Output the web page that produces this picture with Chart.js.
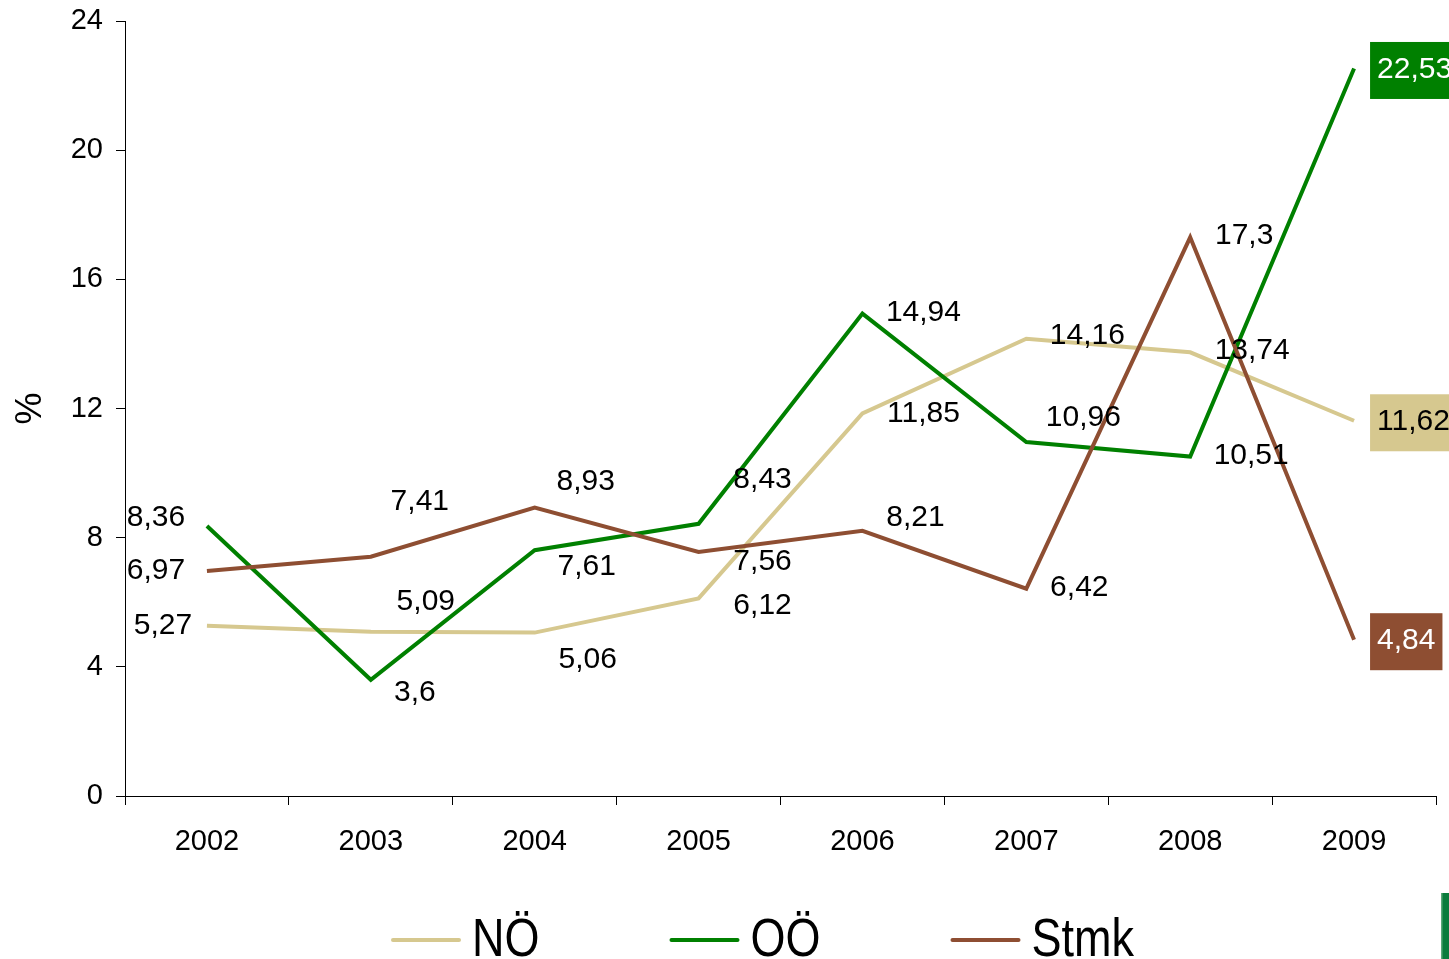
<!DOCTYPE html>
<html><head><meta charset="utf-8">
<script src="https://cdn.jsdelivr.net/npm/chart.js@4.4.0/dist/chart.umd.min.js"></script>
<style>html,body{margin:0;padding:0;background:#fff;overflow:hidden}</style>
</head><body>
<canvas id="c" width="1449" height="959" style="width:1449px;height:959px;display:block"></canvas>
<script>
// ---- data ----
const categories = ['2002','2003','2004','2005','2006','2007','2008','2009'];
const seriesNames = ['NÖ','OÖ','Stmk'];
const noValues   = [5.27, 5.09, 5.06, 6.12, 11.85, 14.16, 13.74, 11.62];
const ooValues   = [8.36, 3.6, 7.61, 8.43, 14.94, 10.96, 10.51, 22.53];
const stmkValues = [6.97, 7.41, 8.93, 7.56, 8.21, 6.42, 17.3, 4.84];
const yTickValues = [0, 4, 8, 12, 16, 20, 24];
const yTitle = '%';

// ---- styles ----
const colNO = '#D6C88F', colOO = '#008000', colST = '#8E4E32';
const boxText = ['#000', '#fff', '#fff'];
const FONT = '"Liberation Sans", Arial, sans-serif';
// label offsets (dx, dy) from each point, in pixels
const offNO = [[-44,0],[55,-30],[53,27],[64,7],[61,0],[61,-3],[62,-2],null];
const offOO = [[-51,-8],[44,13],[52,16],[64,-44],[61,-1],[57,-24],[61,-1],null];
const offST = [[-51,0],[49,-55],[51,-26],[64,10],[53,-13],[53,-1],[54,-2],null];
const offsets = [offNO, offOO, offST];

const fmt = v => String(v).replace('.', ',');

const labelPlugin = {
  id: 'labels',
  afterDatasetsDraw(chart) {
    const ctx = chart.ctx;
    ctx.save();
    ctx.font = '30px ' + FONT;
    ctx.textBaseline = 'middle';
    chart.data.datasets.forEach((ds, di) => {
      const meta = chart.getDatasetMeta(di);
      meta.data.forEach((pt, i) => {
        const txt = fmt(ds.data[i]);
        const off = offsets[di][i];
        if (off) {
          ctx.textAlign = 'center';
          ctx.fillStyle = '#000';
          ctx.fillText(txt, pt.x + off[0], pt.y + off[1]);
        } else {
          const w = ctx.measureText(txt).width;
          const bx = pt.x + 16, by = pt.y + 2 - 28.5;
          ctx.fillStyle = ds.borderColor;
          ctx.fillRect(bx, by, w + 14, 57);
          ctx.textAlign = 'left';
          ctx.fillStyle = boxText[di];
          ctx.fillText(txt, bx + 7, pt.y + 1);
        }
      });
    });
    ctx.restore();
  }
};

const legendPlugin = {
  id: 'customLegend',
  afterDraw(chart) {
    const ctx = chart.ctx;
    ctx.save();
    let x = 393;
    const ly = 940;
    chart.data.datasets.forEach((ds) => {
      ctx.strokeStyle = ds.borderColor;
      ctx.lineWidth = 4;
      ctx.lineCap = 'round';
      ctx.beginPath();
      ctx.moveTo(x, ly);
      ctx.lineTo(x + 66, ly);
      ctx.stroke();
      const tx = x + 79;
      ctx.font = '45px ' + FONT;
      const w = ctx.measureText(ds.label).width;
      ctx.fillStyle = '#000';
      ctx.textAlign = 'left';
      ctx.textBaseline = 'alphabetic';
      ctx.save();
      ctx.translate(tx, 956);
      ctx.scale(1, 1.18);
      ctx.fillText(ds.label, 0, 0);
      ctx.restore();
      x = tx + w + 132;
    });
    // small decorative bar bottom right
    ctx.fillStyle = '#0B7C3C';
    ctx.fillRect(1441, 893, 8, 66);
    ctx.fillStyle = '#5AA878';
    ctx.fillRect(1441, 893, 1.5, 66);
    ctx.restore();
  }
};

const mk = (label, data, color, order) => ({
  label, data, borderColor: color, backgroundColor: color,
  borderWidth: 4, pointRadius: 0, pointHoverRadius: 0, tension: 0, fill: false, order
});

new Chart(document.getElementById('c'), {
  type: 'line',
  data: {
    labels: categories,
    datasets: [
      mk(seriesNames[0], noValues, colNO, 3),
      mk(seriesNames[1], ooValues, colOO, 2),
      mk(seriesNames[2], stmkValues, colST, 1)
    ]
  },
  options: {
    responsive: false,
    animation: false,
    devicePixelRatio: 1,
    layout: { padding: { left: 0, top: 21, right: 13, bottom: 103 } },
    plugins: { legend: { display: false }, tooltip: { enabled: false } },
    scales: {
      x: {
        type: 'category',
        offset: true,
        grid: { display: true, offset: true, drawOnChartArea: false, drawTicks: true, tickLength: 9, color: '#000', lineWidth: 1 },
        border: { display: true, color: '#000', width: 1 },
        ticks: { font: { family: FONT, size: 29 }, color: '#000', padding: 20, maxRotation: 0 },
        afterFit: s => { s.height = 60; s.paddingLeft = 0; s.paddingRight = 0; }
      },
      y: {
        min: 0, max: 24,
        afterBuildTicks: s => { s.ticks = yTickValues.map(v => ({ value: v })); },
        grid: { display: true, drawOnChartArea: false, drawTicks: true, tickLength: 9, color: '#000', lineWidth: 1 },
        border: { display: true, color: '#000', width: 1 },
        ticks: { font: { family: FONT, size: 29 }, color: '#000', padding: 13 },
        title: { display: true, text: yTitle, font: { family: FONT, size: 36 }, color: '#000', padding: { top: 9, bottom: 0 } },
        afterFit: s => { s.width = 125; s.paddingTop = 0; s.paddingBottom = 0; }
      }
    }
  },
  plugins: [labelPlugin, legendPlugin]
});
</script>
</body></html>
